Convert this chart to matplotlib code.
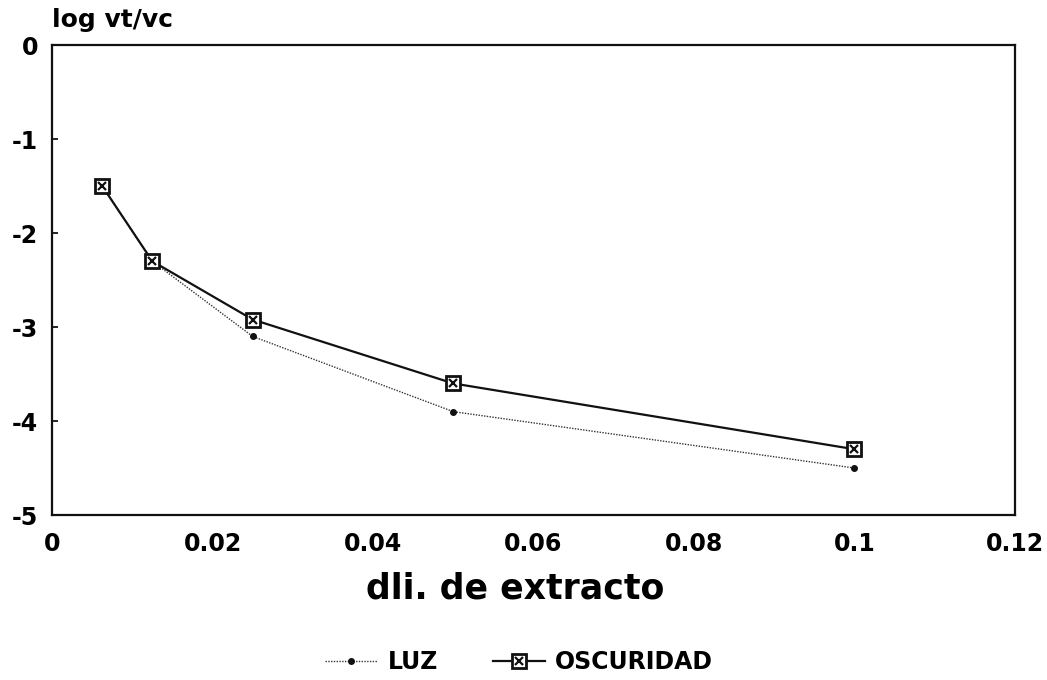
import matplotlib
matplotlib.use("Agg")
import matplotlib.pyplot as plt
from matplotlib.legend_handler import HandlerTuple

dilution = [0.00625, 0.0125, 0.025, 0.05, 0.1]
luz = [-1.5, -2.3, -3.1, -3.9, -4.5]
oscuridad = [-1.5, -2.3, -2.92, -3.6, -4.3]
x_ticks = [0, 0.02, 0.04, 0.06, 0.08, 0.1, 0.12]
x_tick_labels = ["0", "0.02", "0.04", "0.06", "0.08", "0.1", "0.12"]
y_ticks = [0, -1, -2, -3, -4, -5]

plt.rcParams['font.family'] = ['DejaVu Sans']
plt.rcParams['font.weight'] = 'bold'

fig = plt.figure(figsize=(10.47, 6.8), dpi=100)
ax = fig.add_axes([0.0497, 0.2426, 0.9197, 0.6912])

l1, = ax.plot(dilution, luz, color='#333333', linestyle=(0, (1, 1)), linewidth=1.0,
              marker='o', markersize=4, markerfacecolor='#111111', markeredgecolor='#111111')
l2, = ax.plot(dilution, oscuridad, color='#111111', linewidth=1.6,
              marker='s', markersize=10, markerfacecolor='white', markeredgecolor='#111111',
              markeredgewidth=2.0)
l3, = ax.plot(dilution, oscuridad, linestyle='none', marker='x', markersize=6,
              markeredgecolor='#111111', markeredgewidth=1.6)

ax.set_xlim(0, 0.12)
ax.set_ylim(-5, 0)
ax.set_xticks(x_ticks)
ax.set_xticklabels(x_tick_labels)
ax.set_yticks(y_ticks)
ax.set_yticklabels(['-' + str(abs(v)) if v < 0 else str(v) for v in y_ticks])
ax.tick_params(axis='both', labelsize=17, direction='in', length=4, width=1.2)
ax.tick_params(axis='x', length=0, pad=12)
ax.tick_params(axis='y', pad=10)
for s in ax.spines.values():
    s.set_linewidth(1.6)
    s.set_color('#111111')

ax.set_xlabel('dli. de extracto', fontsize=25, fontweight='bold')
ax.xaxis.set_label_coords(0.481, -0.12)
fig.text(0.050, 0.953, 'log vt/vc', fontsize=18, fontweight='bold', ha='left', va='bottom')

fig.legend([l1, (l2, l3)], ['LUZ', 'OSCURIDAD'], loc='center', bbox_to_anchor=(0.496, 0.026),
           ncol=2, frameon=False, fontsize=17, handlelength=2.2, handletextpad=0.45,
           columnspacing=2.3,
           handler_map={tuple: HandlerTuple(ndivide=1)})

fig.savefig('out.png', dpi=100)
